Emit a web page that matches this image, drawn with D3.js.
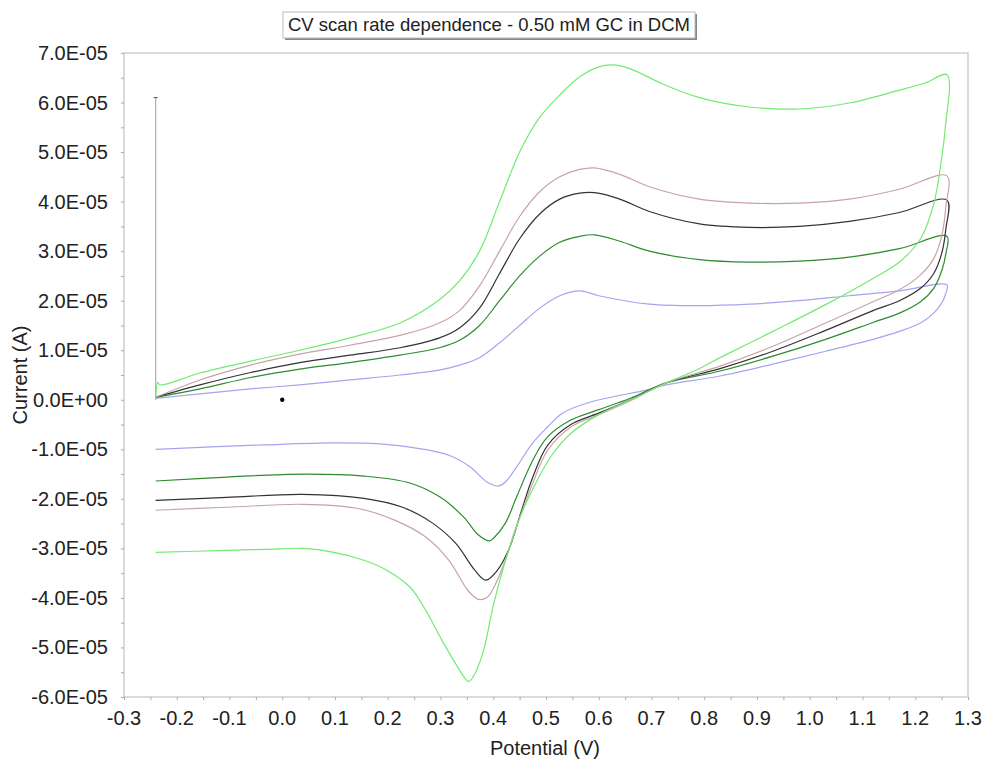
<!DOCTYPE html>
<html>
<head>
<meta charset="utf-8">
<script src="https://cdn.jsdelivr.net/npm/d3@7"></script>
<style>
  body { margin: 0; background: #fff; }
  svg text { font-family: "Liberation Sans", Arial, sans-serif; fill: #222; }
</style>
</head>
<body>
<div id="chart"></div>
<script>
// currents are in units of 1E-05 A, potentials in V

var brightGreen = [[-0.24,0.0],[-0.236,0.35],[-0.232,0.3],[-0.156,0.54],[-0.06,0.78],[0.033,1.0],[0.128,1.25],[0.223,1.55],[0.298,2.02],[0.336,2.4],[0.374,3.0],[0.412,4.0],[0.45,5.0],[0.488,5.7],[0.526,6.15],[0.564,6.52],[0.60,6.72],[0.625,6.76],[0.66,6.68],[0.72,6.38],[0.791,6.1],[0.886,5.91],[0.98,5.87],[1.075,5.99],[1.17,6.25],[1.22,6.4],[1.26,6.56],
  [1.257,5.5],[1.25,4.87],[1.235,3.95],[1.21,3.25],[1.17,2.78],[1.12,2.45],[1.03,1.92],[0.93,1.38],[0.83,0.85],[0.785,0.6],[0.728,0.34],[0.66,0.0],[0.60,-0.3],[0.547,-0.68],[0.511,-1.12],[0.475,-1.8],[0.444,-2.55],[0.423,-3.25],[0.401,-4.11],[0.38,-5.12],[0.361,-5.61],[0.353,-5.69],[0.329,-5.33],[0.30,-4.8],[0.272,-4.25],[0.242,-3.78],[0.198,-3.44],[0.155,-3.24],[0.098,-3.08],[0.039,-3.0],[-0.033,-3.02],[-0.105,-3.04],[-0.24,-3.08]];

var rose = [[-0.24,0.05],[-0.156,0.4],[-0.06,0.7],[0.033,0.92],[0.128,1.1],[0.223,1.3],[0.298,1.55],[0.336,1.8],[0.374,2.3],[0.412,3.0],[0.45,3.7],[0.488,4.2],[0.526,4.5],[0.564,4.65],[0.592,4.68],[0.64,4.55],[0.696,4.3],[0.791,4.05],[0.886,3.97],[0.98,3.97],[1.075,4.05],[1.17,4.25],[1.26,4.52],
  [1.258,3.9],[1.25,3.3],[1.235,2.85],[1.21,2.52],[1.17,2.22],[1.12,1.98],[1.03,1.55],[0.93,1.08],[0.83,0.68],[0.728,0.34],[0.66,-0.02],[0.60,-0.3],[0.547,-0.55],[0.503,-1.02],[0.475,-1.68],[0.444,-2.57],[0.423,-3.24],[0.401,-3.79],[0.388,-3.99],[0.372,-4.03],[0.352,-3.85],[0.316,-3.24],[0.272,-2.77],[0.213,-2.43],[0.141,-2.19],[0.039,-2.11],[-0.105,-2.17],[-0.24,-2.23]];

var black = [[-0.24,0.05],[-0.156,0.3],[-0.06,0.55],[0.033,0.75],[0.128,0.9],[0.223,1.05],[0.298,1.25],[0.336,1.45],[0.374,1.85],[0.412,2.55],[0.45,3.25],[0.488,3.75],[0.526,4.05],[0.564,4.17],[0.592,4.18],[0.64,4.05],[0.696,3.8],[0.791,3.55],[0.886,3.48],[0.98,3.5],[1.075,3.6],[1.17,3.78],[1.26,4.03],
  [1.258,3.45],[1.25,2.95],[1.235,2.55],[1.21,2.25],[1.17,2.0],[1.12,1.8],[1.03,1.4],[0.93,0.98],[0.83,0.63],[0.728,0.34],[0.66,0.0],[0.60,-0.27],[0.547,-0.5],[0.503,-0.92],[0.475,-1.56],[0.452,-2.29],[0.431,-2.98],[0.408,-3.44],[0.386,-3.64],[0.365,-3.44],[0.329,-2.9],[0.285,-2.49],[0.228,-2.17],[0.155,-1.99],[0.039,-1.91],[-0.105,-1.97],[-0.24,-2.03]];

var darkGreen = [[-0.24,0.05],[-0.156,0.22],[-0.06,0.45],[0.033,0.62],[0.128,0.75],[0.223,0.9],[0.298,1.05],[0.336,1.2],[0.374,1.5],[0.412,2.0],[0.45,2.5],[0.488,2.9],[0.526,3.18],[0.564,3.3],[0.592,3.33],[0.64,3.2],[0.696,3.0],[0.791,2.83],[0.886,2.78],[0.98,2.8],[1.075,2.88],[1.17,3.05],[1.26,3.3],
  [1.258,2.95],[1.25,2.6],[1.235,2.25],[1.21,1.98],[1.17,1.75],[1.12,1.56],[1.03,1.22],[0.93,0.88],[0.83,0.58],[0.728,0.34],[0.66,0.03],[0.60,-0.2],[0.547,-0.41],[0.503,-0.75],[0.475,-1.22],[0.444,-1.97],[0.423,-2.49],[0.401,-2.79],[0.393,-2.85],[0.372,-2.73],[0.344,-2.37],[0.30,-1.97],[0.242,-1.68],[0.155,-1.54],[0.039,-1.5],[-0.105,-1.56],[-0.24,-1.64]];

var blue = [[-0.24,0.03],[-0.156,0.12],[-0.06,0.22],[0.033,0.3],[0.128,0.4],[0.223,0.5],[0.298,0.6],[0.336,0.7],[0.374,0.85],[0.412,1.15],[0.45,1.5],[0.488,1.85],[0.526,2.1],[0.564,2.2],[0.60,2.1],[0.696,1.93],[0.791,1.9],[0.886,1.93],[0.98,2.0],[1.075,2.1],[1.17,2.2],[1.26,2.32],
  [1.258,2.15],[1.25,1.95],[1.235,1.75],[1.21,1.55],[1.17,1.38],[1.12,1.22],[1.03,0.98],[0.93,0.72],[0.83,0.48],[0.728,0.3],[0.692,0.2],[0.583,-0.05],[0.531,-0.27],[0.503,-0.55],[0.475,-0.87],[0.444,-1.36],[0.423,-1.66],[0.41,-1.74],[0.388,-1.66],[0.357,-1.36],[0.316,-1.12],[0.257,-0.98],[0.185,-0.89],[0.098,-0.87],[-0.033,-0.91],[-0.24,-1.0]];

// start-up spike on the rose trace
var spike = [[-0.24,0.0],[-0.24,6.1]];
var marker = [[0.0,0.0]];

var series = [
  {name: "blue", data: blue, color: "#a4a4f2"},
  {name: "darkGreen", data: darkGreen, color: "#2e8b2e"},
  {name: "black", data: black, color: "#333333"},
  {name: "rose", data: rose, color: "#c9a3a3"},
  {name: "brightGreen", data: brightGreen, color: "#72ea72"}
];

var xTicks = d3.range(-0.3, 1.31, 0.1);
var yTicks = d3.range(-6, 7.01, 1);

var title = "CV scan rate dependence - 0.50 mM GC in DCM";

var width = 985, height = 765;
var margin = {top: 53, right: 17, bottom: 68, left: 124};

var svg = d3.select("#chart").append("svg")
    .attr("width", width)
    .attr("height", height);

var x = d3.scaleLinear().domain([-0.3, 1.3]).range([margin.left, width - margin.right]);
var y = d3.scaleLinear().domain([-6, 7]).range([height - margin.bottom, margin.top]);

// title box with shadow
var tb = svg.append("g");
tb.append("rect").attr("x", 285).attr("y", 14).attr("width", 412).attr("height", 26).attr("fill", "#888");
tb.append("rect").attr("x", 283).attr("y", 12).attr("width", 412).attr("height", 26)
    .attr("fill", "#fff").attr("stroke", "#bbb").attr("stroke-width", 1);
tb.append("text").attr("x", 489).attr("y", 31).attr("text-anchor", "middle")
    .style("font-size", "18.5px").text(title);

// frame
svg.append("rect")
    .attr("x", x(-0.3)).attr("y", y(7))
    .attr("width", x(1.3) - x(-0.3)).attr("height", y(-6) - y(7))
    .attr("fill", "none").attr("stroke", "#cfcfcf").attr("stroke-width", 1.5);

// minor ticks
var xAxis = d3.axisBottom(x).tickValues(d3.range(-0.3, 1.31, 0.05)).tickSize(3).tickFormat("");
var gx = svg.append("g").attr("transform", "translate(0," + y(-6) + ")").call(xAxis);
gx.select(".domain").remove();
gx.selectAll("line").attr("stroke", "#aaa");

var yAxis = d3.axisLeft(y).tickValues(d3.range(-6, 7.01, 0.5)).tickSize(3).tickFormat("");
var gy = svg.append("g").attr("transform", "translate(" + x(-0.3) + ",0)").call(yAxis);
gy.select(".domain").remove();
gy.selectAll("line").attr("stroke", "#aaa");

// tick labels
svg.append("g").selectAll("text").data(xTicks).enter().append("text")
    .attr("x", function(d) { return x(d); })
    .attr("y", y(-6) + 28)
    .attr("text-anchor", "middle")
    .style("font-size", "20px")
    .text(function(d) { return d3.format(".1f")(Math.abs(d) < 1e-9 ? 0 : d).replace("−", "-"); });

svg.append("g").selectAll("text").data(yTicks).enter().append("text")
    .attr("x", x(-0.3) - 16)
    .attr("y", function(d) { return y(d) + 7; })
    .attr("text-anchor", "end")
    .style("font-size", "20px")
    .text(function(d) {
        var v = Math.round(d);
        if (v === 0) return "0.0E+00";
        return (v < 0 ? "-" : "") + Math.abs(v) + ".0E-05";
    });

// axis titles
svg.append("text").attr("x", 545).attr("y", 755).attr("text-anchor", "middle")
    .style("font-size", "20px").text("Potential (V)");
svg.append("text").attr("transform", "translate(27,375) rotate(-90)").attr("text-anchor", "middle")
    .style("font-size", "20px").text("Current (A)");

// traces
var line = d3.line()
    .x(function(d) { return x(d[0]); })
    .y(function(d) { return y(d[1]); })
    .curve(d3.curveCatmullRom.alpha(0.5));

svg.append("path").datum(spike)
    .attr("d", d3.line().x(function(d) { return x(d[0]); }).y(function(d) { return y(d[1]); }))
    .attr("fill", "none").attr("stroke", "#c9a3a3").attr("stroke-width", 1.2);
svg.append("line")
    .attr("x1", x(-0.24) - 2).attr("x2", x(-0.24) + 2)
    .attr("y1", y(6.1)).attr("y2", y(6.1))
    .attr("stroke", "#555").attr("stroke-width", 1);

svg.selectAll(".trace").data(series).enter().append("path")
    .attr("class", "trace")
    .attr("d", function(d) { return line(d.data); })
    .attr("fill", "none")
    .attr("stroke", function(d) { return d.color; })
    .attr("stroke-width", 1.2);

svg.selectAll(".marker").data(marker).enter().append("circle")
    .attr("class", "marker")
    .attr("cx", function(d) { return x(d[0]); })
    .attr("cy", function(d) { return y(d[1]); })
    .attr("r", 2.2)
    .attr("fill", "#000");
</script>
</body>
</html>
